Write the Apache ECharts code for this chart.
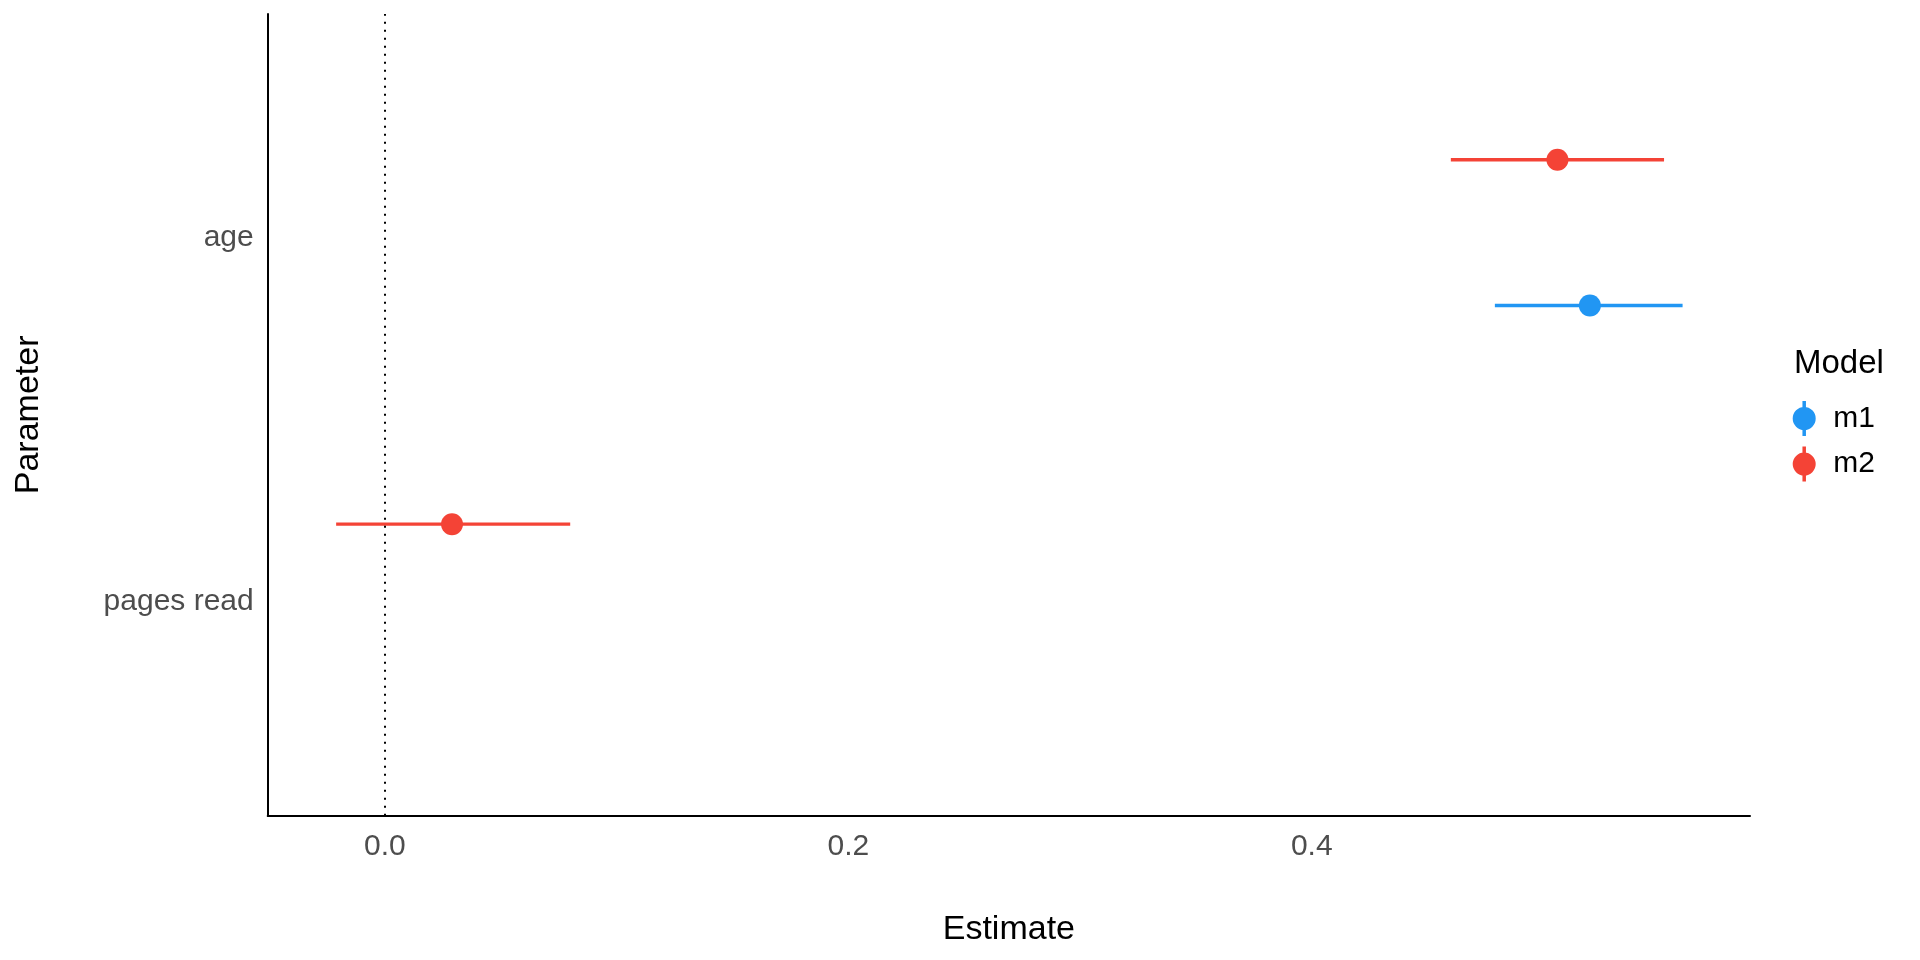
<!DOCTYPE html>
<html>
<head>
<meta charset="utf-8">
<title>Parameter estimates</title>
<script src="https://cdn.jsdelivr.net/npm/echarts@6/dist/echarts.min.js"></script>
<style>
  html, body { margin: 0; padding: 0; background: #fff; }
  #chart { width: 1920px; height: 960px; }
</style>
</head>
<body>
<div id="chart"></div>
<script>
// categories on the y axis, bottom to top (positions 1, 2)
const parameters = ['pages read', 'age']
const models = ['m1', 'm2']
const modelColors = ['#2196F3', '#F44336']

// estimate and interval per parameter, null = not in model
const m1Estimate = [null, 0.520]
const m1Low = [null, 0.479]
const m1High = [null, 0.560]

const m2Estimate = [0.029, 0.506]
const m2Low = [-0.021, 0.460]
const m2High = [0.080, 0.552]

const xTicks = [0.0, 0.2, 0.4]

const fontFamily = '"Liberation Sans", Arial, sans-serif'
const tickColor = '#4d4d4d'

// dodge offset for each model inside a parameter row
const dodge = { m1: -0.2, m2: 0.2 }

const modelData = {
  m1: { est: m1Estimate, lo: m1Low, hi: m1High },
  m2: { est: m2Estimate, lo: m2Low, hi: m2High }
}

const pointsFor = (name) => {
  const d = modelData[name]
  const out = []
  d.est.forEach((v, i) => {
    if (v == null) return
    out.push([v, i + 1 + dodge[name]])
  })
  return out
}

const barsFor = (name) => {
  const d = modelData[name]
  const out = []
  d.est.forEach((v, i) => {
    if (v == null) return
    out.push([d.lo[i], d.hi[i], i + 1 + dodge[name]])
  })
  return out
}

const legendIcon = 'path://M9.75 0H13.25V35H9.75Z M0 17.5A11.5 11.5 0 1 1 23 17.5A11.5 11.5 0 1 1 0 17.5Z'

const series = []
models.forEach((name, k) => {
  series.push({
    name,
    type: 'scatter',
    z: 4,
    symbol: 'circle',
    symbolSize: 22,
    itemStyle: { color: modelColors[k], opacity: 1 },
    data: pointsFor(name),
    markLine: k === 0 ? {
      silent: true,
      symbol: ['none', 'none'],
      label: { show: false },
      lineStyle: { color: '#000', width: 2, type: [2, 6] },
      data: [{ xAxis: 0 }]
    } : undefined
  })
})
models.forEach((name, k) => {
  series.push({
    name,
    type: 'custom',
    z: 3,
    itemStyle: { color: modelColors[k] },
    renderItem: (params, api) => {
      const a = api.coord([api.value(0), api.value(2)])
      const b = api.coord([api.value(1), api.value(2)])
      return {
        type: 'line',
        shape: { x1: a[0], y1: a[1], x2: b[0], y2: b[1] },
        style: { stroke: modelColors[k], lineWidth: 3.4 }
      }
    },
    encode: { x: [0, 1], y: 2 },
    data: barsFor(name)
  })
})

const chart = echarts.init(document.getElementById('chart'))
chart.setOption({
  animation: false,
  backgroundColor: '#fff',
  textStyle: { fontFamily },
  title: {
    text: 'Model',
    left: 1794,
    top: 347,
    padding: 0,
    textStyle: { fontFamily, fontSize: 33, fontWeight: 'normal', color: '#000' }
  },
  legend: {
    orient: 'vertical',
    left: 1792.7,
    top: 401,
    padding: 0,
    itemWidth: 48,
    itemHeight: 35,
    itemGap: 10.6,
    selectedMode: false,
    data: models.map((m) => ({ name: m, icon: legendIcon })),
    textStyle: { fontFamily, fontSize: 30, color: '#000' }
  },
  grid: { left: 267.7, right: 170, top: 14, bottom: 144.3 },
  xAxis: {
    type: 'value',
    min: -0.05053,
    max: 0.58909,
    name: 'Estimate',
    nameLocation: 'middle',
    nameGap: 97,
    nameTextStyle: { fontFamily, fontSize: 34, color: '#000' },
    axisLine: { show: true, onZero: false, lineStyle: { color: '#000', width: 2 } },
    axisTick: { show: false },
    splitLine: { show: false },
    axisLabel: {
      customValues: xTicks,
      formatter: (v) => v.toFixed(1),
      margin: 16,
      fontFamily,
      fontSize: 30,
      color: tickColor
    }
  },
  yAxis: {
    type: 'value',
    min: 0.4,
    max: 2.6,
    name: 'Parameter',
    nameLocation: 'middle',
    nameGap: 222,
    nameTextStyle: { fontFamily, fontSize: 34, color: '#000' },
    axisLine: { show: true, onZero: false, lineStyle: { color: '#000', width: 2 } },
    axisTick: { show: false },
    splitLine: { show: false },
    axisLabel: {
      customValues: [1, 2],
      formatter: (v) => '{p|' + parameters[Math.round(v) - 1] + '}',
      margin: 14,
      rich: {
        p: {
          fontFamily,
          fontSize: 30,
          color: tickColor,
          padding: [10, 0, 0, 0]
        }
      }
    }
  },
  series
})
</script>
</body>
</html>
